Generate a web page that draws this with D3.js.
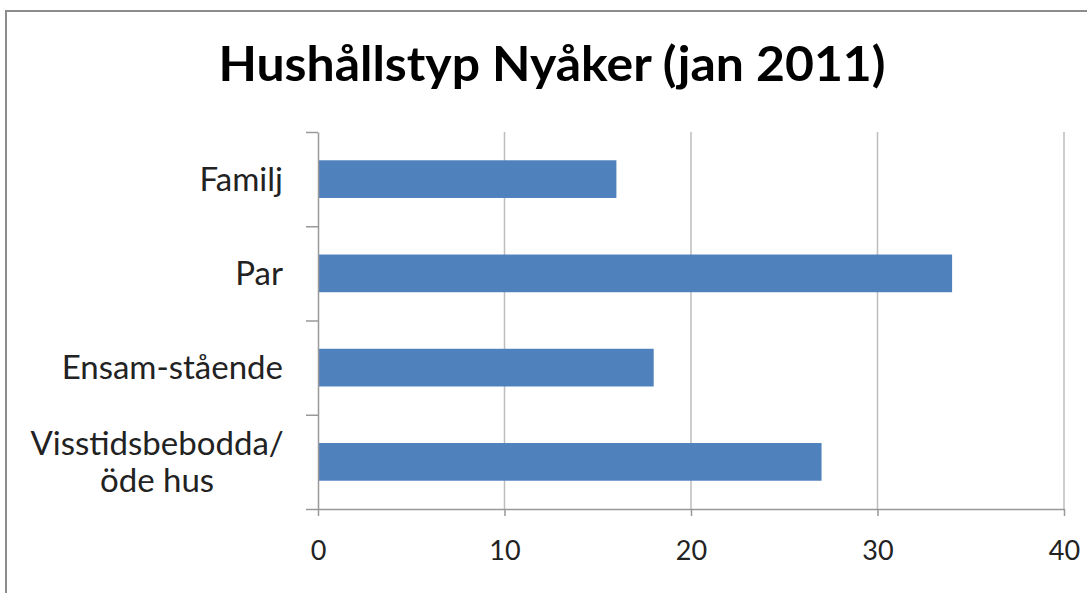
<!DOCTYPE html>
<html>
<head>
<meta charset="utf-8">
<script src="https://cdn.jsdelivr.net/npm/d3@7"></script>
<style>
  body { margin: 0; background: #fff; }
  svg { display: block; font-family: Lato, 'Open Sans', sans-serif; }
</style>
</head>
<body>
<svg></svg>
<script>
const w = 1087;
const h = 593;
const svg = d3.select('svg').attr('width', w).attr('height', h);

const title = 'Hushållstyp Nyåker (jan 2011)';
const categories = ['Familj', 'Par', 'Ensam-stående', 'Visstidsbebodda/\nöde hus'];
const values = [16, 34, 18, 27];
const xTicks = [0, 10, 20, 30, 40];

const plot = { left: 318, right: 1064, top: 132, bottom: 509 };

// chart frame
svg.append('rect')
  .attr('x', 6).attr('y', 11)
  .attr('width', w + 20).attr('height', h + 20)
  .attr('fill', '#fff')
  .attr('stroke', '#8c8c8c')
  .attr('stroke-width', 2);

svg.append('text')
  .attr('x', 552).attr('y', 81)
  .attr('text-anchor', 'middle')
  .attr('font-size', 48)
  .attr('font-weight', 'bold')
  .attr('fill', '#000')
  .attr('textLength', 667)
  .attr('lengthAdjust', 'spacingAndGlyphs')
  .text(title);

const xScale = d3.scaleLinear()
  .domain([0, 40])
  .range([plot.left, plot.right]);

const yScale = d3.scaleBand()
  .domain(categories)
  .range([plot.top, plot.bottom])
  .paddingInner(0.6)
  .paddingOuter(0.3);

// gridlines
svg.append('g')
  .selectAll('line')
  .data(xTicks.slice(1))
  .enter()
  .append('line')
  .attr('x1', (d) => xScale(d)).attr('x2', (d) => xScale(d))
  .attr('y1', plot.top).attr('y2', plot.bottom)
  .attr('stroke', '#bdbdbd')
  .attr('stroke-width', 1.5);

svg.append('g')
  .selectAll('rect')
  .data(values)
  .enter()
  .append('rect')
  .attr('x', xScale(0))
  .attr('y', (d, i) => yScale(categories[i]))
  .attr('width', (d) => xScale(d) - xScale(0))
  .attr('height', yScale.bandwidth())
  .attr('fill', '#4f81bd');

// x axis
const xAxis = d3.axisBottom(xScale)
  .tickValues(xTicks)
  .tickSize(7)
  .tickSizeOuter(0)
  .tickPadding(25);

const gx = svg.append('g')
  .attr('transform', `translate(0, ${plot.bottom})`)
  .call(xAxis);
gx.select('.domain').attr('stroke', '#999').attr('stroke-width', 1.5);
gx.selectAll('.tick line').attr('stroke', '#999').attr('stroke-width', 1.5);
gx.selectAll('.tick text')
  .attr('font-size', 27)
  .attr('font-family', 'Lato, sans-serif')
  .attr('fill', '#222');

// y axis: ticks at category boundaries
const yEdge = d3.scaleLinear()
  .domain([0, categories.length])
  .range([plot.top, plot.bottom]);
const gy = svg.append('g')
  .attr('transform', `translate(${plot.left}, 0)`)
  .call(d3.axisLeft(yEdge).ticks(categories.length).tickFormat('').tickSize(12).tickSizeOuter(0));
gy.select('.domain').attr('stroke', '#999').attr('stroke-width', 1.5);
gy.selectAll('.tick line').attr('stroke', '#999').attr('stroke-width', 1.5);

// category labels, lines centred, block right-aligned
const labelRight = 283;
const lineH = 37;
categories.forEach((c) => {
  const lines = c.split('\n');
  const t = svg.append('text')
    .attr('font-size', 33)
    .attr('fill', '#222')
    .attr('text-anchor', 'middle');
  lines.forEach((l) => t.append('tspan').text(l));
  const maxW = d3.max(t.selectAll('tspan').nodes(), (n) => n.getComputedTextLength());
  const cx = labelRight - maxW / 2;
  const cy = yScale(c) + yScale.bandwidth() / 2;
  t.selectAll('tspan')
    .attr('x', cx)
    .attr('y', (d, i) => cy + (i - (lines.length - 1) / 2) * lineH)
    .attr('dy', '0.35em');
});
</script>
</body>
</html>
